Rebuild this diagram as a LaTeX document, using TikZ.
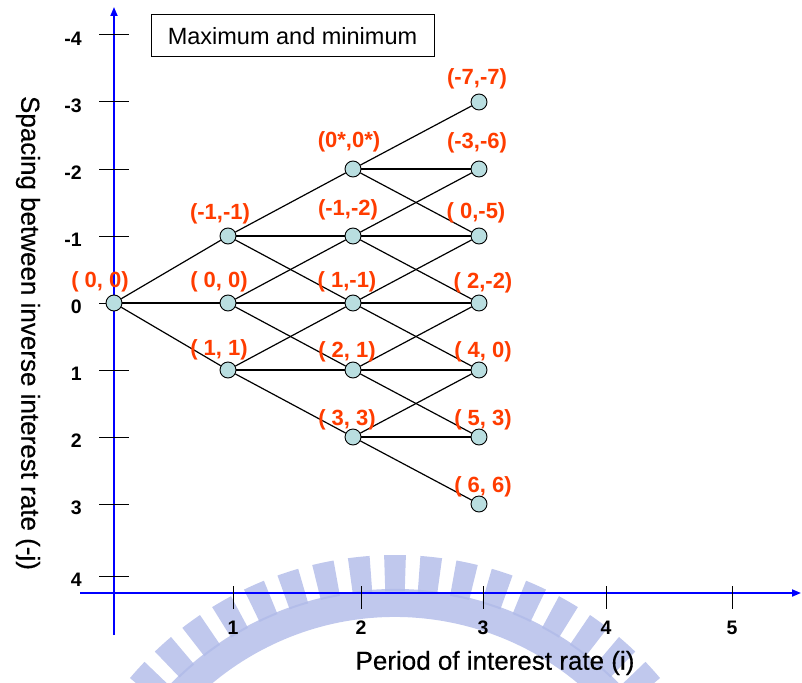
\documentclass[tikz,border=0pt]{standalone}
\usepackage{fontspec}
\setmainfont{Liberation Sans}
\newfontfamily\titlefont{Liberation Sans}[FakeBold=0.4]
\usetikzlibrary{arrows.meta,calc}
\definecolor{nodefill}{RGB}{185,222,224}
\definecolor{lblcol}{RGB}{255,60,0}
\definecolor{axblue}{RGB}{0,0,255}
\definecolor{wmcol}{RGB}{176,186,232}
\tikzset{
  axisline/.style={axblue, line width=1.8pt, -{Triangle[length=9pt,width=7pt]}},
  tickline/.style={black, line width=1pt},
  ticklab/.style={font=\bfseries\fontsize{19.5}{22}\selectfont, inner sep=0pt},
  treenode/.style={circle, draw=black, fill=nodefill, line width=0.9pt, minimum size=16pt, inner sep=0pt},
  edge/.style={black, line width=1.2pt},
  lbl/.style={text=lblcol, font=\bfseries\fontsize{22}{25}\selectfont, inner sep=0pt},
  titlebox/.style={draw=black, line width=1pt, minimum width=283pt, minimum height=42pt, inner sep=0pt, font=\fontsize{23.5}{26}\selectfont},
  axtitle/.style={font=\titlefont\fontsize{26}{28}\selectfont, inner sep=0pt},
  wm/.style={fill=wmcol, fill opacity=0.8}
}
\begin{document}
\begin{tikzpicture}[x=1pt,y=-1pt]
\useasboundingbox (0,0) rectangle (802,682);
% watermark
\begin{scope}
\clip (0,0) rectangle (802,682);
\coordinate (wc) at (395,902);
\fill[wm] ([shift={(wc)}]28:285pt) arc[start angle=28,end angle=152,radius=285pt]
  -- ([shift={(wc)}]152:313pt) arc[start angle=152,end angle=28,radius=313pt] -- cycle;
\foreach \a in {30,36,...,150}{
  \fill[wm] ([shift={(wc)}]\a-1.8:311pt) arc[start angle=\a-1.8,end angle=\a+1.8,radius=311pt]
    -- ([shift={(wc)}]\a+1.8:347pt) arc[start angle=\a+1.8,end angle=\a-1.8,radius=347pt] -- cycle;
}
\end{scope}
% axes
\coordinate (ybot) at (114,635);
\coordinate (ytop) at (114,7);
\coordinate (xl) at (80,593);
\coordinate (xr) at (801,593);
\draw[axisline] (ybot) -- (ytop);
\draw[axisline] (xl) -- (xr);
\foreach \v/\y in {-4/35,-3/102,-2/169,-1/236,0/303,1/370,2/437,3/504,4/576}{
  \draw[tickline] (99,\y) -- (129,\y);
  \node[ticklab,anchor=east] at (82,{\y+4}) {\v};
}
\foreach \v/\x in {1/233,2/361,3/483,4/606,5/732}{
  \draw[tickline] (\x,586) -- (\x,609);
  \node[ticklab] at (\x,628) {\v};
}
\node[axtitle] (xt) at (495,663) {Period of interest rate (i)};
\node[axtitle,rotate=-90] (yt) at (28,333) {Spacing between inverse interest rate (-j)};
\node[titlebox] (box) at (292.5,36) {Maximum and minimum};
% tree nodes
\node[treenode] (O) at (114,303) {};
\node[treenode] (A1) at (228,236) {};
\node[treenode] (A2) at (228,303) {};
\node[treenode] (A3) at (228,370) {};
\node[treenode] (B1) at (353,169) {};
\node[treenode] (B2) at (353,236) {};
\node[treenode] (B3) at (353,303) {};
\node[treenode] (B4) at (353,370) {};
\node[treenode] (B5) at (353,437) {};
\node[treenode] (C1) at (479,102) {};
\node[treenode] (C2) at (479,169) {};
\node[treenode] (C3) at (479,236) {};
\node[treenode] (C4) at (479,303) {};
\node[treenode] (C5) at (479,370) {};
\node[treenode] (C6) at (479,437) {};
\node[treenode] (C7) at (479,504) {};
% edges
\foreach \j in {1,2,3}{\draw[edge] (O) -- (A\j);}
\foreach \i in {1,2,3}{
  \foreach \d in {0,1,2}{
    \pgfmathtruncatemacro\j{\i+\d}
    \draw[edge] (A\i) -- (B\j);
  }
}
\foreach \i in {1,...,5}{
  \foreach \d in {0,1,2}{
    \pgfmathtruncatemacro\j{\i+\d}
    \draw[edge] (B\i) -- (C\j);
  }
}
% labels
\node[lbl] at ($(O)+(-14,-21)$) {( 0, 0)};
\node[lbl] at ($(A1)+(-8,-22)$) {(-1,-1)};
\node[lbl] at ($(A2)+(-9,-21)$) {( 0, 0)};
\node[lbl] at ($(A3)+(-9,-20)$) {( 1, 1)};
\node[lbl] at ($(B1)+(-4,-27)$) {(0*,0*)};
\node[lbl] at ($(B2)+(-5,-26)$) {(-1,-2)};
\node[lbl] at ($(B3)+(-6,-21)$) {( 1,-1)};
\node[lbl] at ($(B4)+(-6,-18)$) {( 2, 1)};
\node[lbl] at ($(B5)+(-6,-17)$) {( 3, 3)};
\node[lbl] at ($(C1)+(-2,-23)$) {(-7,-7)};
\node[lbl] at ($(C2)+(-2,-26)$) {(-3,-6)};
\node[lbl] at ($(C3)+(-3,-23)$) {( 0,-5)};
\node[lbl] at ($(C4)+(4,-20)$) {( 2,-2)};
\node[lbl] at ($(C5)+(4,-18)$) {( 4, 0)};
\node[lbl] at ($(C6)+(4,-17)$) {( 5, 3)};
\node[lbl] at ($(C7)+(4,-17)$) {( 6, 6)};
\end{tikzpicture}
\end{document}
